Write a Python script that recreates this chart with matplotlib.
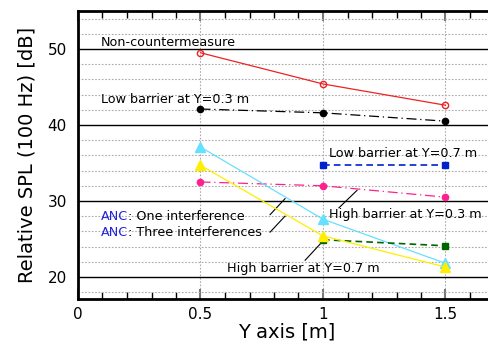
import matplotlib.pyplot as plt
from matplotlib.ticker import MultipleLocator

# Y position [m]
y_pos = [0.5, 1.0, 1.5]
y_pos_low = [1.0, 1.5]

non_counter = [49.5, 45.4, 42.6]
low_03 = [42.1, 41.6, 40.5]
low_07 = [34.7, 34.7]
high_03 = [32.5, 32.0, 30.5]
anc_one = [37.1, 27.6, 21.8]
anc_three = [34.7, 25.4, 21.3]
high_07 = [24.9, 24.1]

fig = plt.figure(figsize=(4.89, 3.47), dpi=100)
ax = fig.add_axes([78/489, 48/347, 416.5/489, 288/347])

ax.plot(y_pos, non_counter, color='#ee2222', lw=0.9, marker='o', ms=4.5,
        mfc='none', mec='#ee2222', zorder=5)
ax.plot(y_pos, low_03, color='black', lw=0.9, ls=(0, (8, 3, 1, 3)),
        marker='o', ms=4.5, zorder=5)
ax.plot(y_pos_low, low_07, color='#0022cc', lw=1.2, ls=(0, (4, 2.5)),
        marker='s', ms=4.5, zorder=5)
ax.plot(y_pos, high_03, color='#ff2090', lw=0.9, ls=(0, (8, 3, 1, 3)),
        marker='o', ms=4.5, zorder=5)
ax.plot(y_pos, anc_one, color='#66e0ff', lw=0.9, marker='^', ms=6.5, zorder=5)
ax.plot(y_pos, anc_three, color='#ffee00', lw=0.9, marker='^', ms=6.5, zorder=6)
ax.plot(y_pos_low, high_07, color='#006600', lw=1.2, ls=(0, (4, 2.5)),
        marker='s', ms=4.5, zorder=5)

ax.set_xlim(0, 1.7)
ax.set_ylim(17.1, 55)
ax.xaxis.set_major_locator(MultipleLocator(0.5))
ax.xaxis.set_minor_locator(MultipleLocator(0.1))
ax.yaxis.set_major_locator(MultipleLocator(10))
ax.yaxis.set_minor_locator(MultipleLocator(2))
ax.set_xticks([0, 0.5, 1, 1.5])
ax.set_xticklabels(['0', '0.5', '1', '1.5'])

ax.grid(which='major', axis='y', color='black', lw=1.0)
ax.grid(which='minor', axis='y', color='#aaaaaa', lw=0.8, ls=(0, (1.5, 1.5)))
ax.grid(which='major', axis='x', color='#aaaaaa', lw=0.8, ls=(0, (1.5, 1.5)))
ax.set_axisbelow(True)

ax.tick_params(axis='x', which='both', direction='in', top=True, bottom=True,
               labelsize=11, pad=6)
ax.tick_params(axis='x', which='major', length=7, width=1.5, color='#777777')
ax.tick_params(axis='x', which='minor', length=5, width=1)
ax.tick_params(axis='y', which='both', length=0, labelsize=11, pad=8)

for s in ['top', 'left', 'bottom']:
    ax.spines[s].set_linewidth(2)
ax.spines['right'].set_visible(False)

ax.set_ylabel('Relative SPL (100 Hz) [dB]', fontsize=14, labelpad=8)
ax.set_xlabel('Y axis [m]', fontsize=14, labelpad=0)

fs = 9.2
ax.text(0.094, 50.9, 'Non-countermeasure', fontsize=fs, va='center')
ax.text(0.094, 43.3, 'Low barrier at Y=0.3 m', fontsize=fs, va='center')
ax.text(1.024, 36.2, 'Low barrier at Y=0.7 m', fontsize=fs, va='center')
ax.text(1.024, 28.2, 'High barrier at Y=0.3 m', fontsize=fs, va='center')
ax.text(0.61, 21.05, 'High barrier at Y=0.7 m', fontsize=fs, va='center')

t1 = ax.text(0.094, 28.0, 'ANC', fontsize=fs, va='center', color='#2222dd')
t2 = ax.text(0.094, 25.9, 'ANC', fontsize=fs, va='center', color='#2222dd')
fig.canvas.draw()
ax.annotate(': One interference', xycoords=t1, xy=(1, 0.5), va='center',
            fontsize=fs)
ax.annotate(': Three interferences', xycoords=t2, xy=(1, 0.5), va='center',
            fontsize=fs)

# leader lines
ax.plot([0.784, 0.845], [28.2, 30.3], color='black', lw=0.8)
ax.plot([0.784, 0.845], [25.9, 28.0], color='black', lw=0.8)
ax.plot([1.065, 1.139], [29.1, 31.4], color='black', lw=0.8)
ax.plot([0.927, 0.996], [22.2, 24.6], color='black', lw=0.8)

fig.savefig('out.png', dpi=100)
